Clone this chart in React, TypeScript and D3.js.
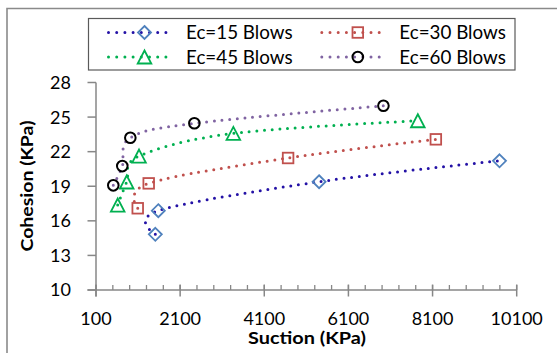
import React from "react";
import * as d3 from "d3";

const suction15 = [1510, 1581, 5403, 9691];
const cohesion15 = [14.83, 16.88, 19.39, 21.21];
const suction30 = [1092, 1353, 4666, 8178];
const cohesion30 = [17.09, 19.25, 21.45, 23.07];
const suction45 = [616, 830, 1123, 3365, 7750];
const cohesion45 = [17.37, 19.37, 21.62, 23.59, 24.68];
const suction60 = [511, 725, 916, 2438, 6932];
const cohesion60 = [19.08, 20.75, 23.21, 24.46, 25.98];

const seriesNames = ["Ec=15 Blows", "Ec=30 Blows", "Ec=45 Blows", "Ec=60 Blows"];
const xTicks = [100, 2100, 4100, 6100, 8100, 10100];
const yTicks = [10, 13, 16, 19, 22, 25, 28];

const FONT = "Lato, 'Open Sans', sans-serif";

type Series = {
  name: string;
  xs: number[];
  ys: number[];
  line: string;
  marker: string;
  shape: "diamond" | "square" | "triangle" | "circle";
};

const series: Series[] = [
  { name: seriesNames[0], xs: suction15, ys: cohesion15, line: "#2412A6", marker: "#4F81BD", shape: "diamond" },
  { name: seriesNames[1], xs: suction30, ys: cohesion30, line: "#C0504D", marker: "#C0504D", shape: "square" },
  { name: seriesNames[2], xs: suction45, ys: cohesion45, line: "#00B050", marker: "#00B050", shape: "triangle" },
  { name: seriesNames[3], xs: suction60, ys: cohesion60, line: "#8064A2", marker: "#000000", shape: "circle" },
];

function Marker({ shape, cx, cy, color }: { shape: string; cx: number; cy: number; color: string }) {
  const common = { fill: "none", stroke: color, strokeWidth: 1.8 };
  if (shape === "diamond") {
    const r = 6.5;
    return <path d={`M${cx},${cy - r}L${cx + r},${cy}L${cx},${cy + r}L${cx - r},${cy}Z`} {...common} />;
  }
  if (shape === "square") {
    const s = 5.3;
    return <rect x={cx - s} y={cy - s} width={2 * s} height={2 * s} {...common} />;
  }
  if (shape === "triangle") {
    const h = 6.5;
    return <path d={`M${cx},${cy - h}L${cx + 6.8},${cy + h}L${cx - 6.8},${cy + h}Z`} {...common} />;
  }
  return <circle cx={cx} cy={cy} r={5.3} {...common} strokeWidth={2} />;
}

export default function App() {
  const W = 557, H = 353;
  const x = d3.scaleLinear().domain([100, 10100]).range([96, 516.7]);
  const y = d3.scaleLinear().domain([10, 28]).range([290, 82.5]);
  const minor = d3.range(100, 10101, 400);
  const axisColor = "#878787";

  const lineGen = d3
    .line<[number, number]>()
    .x((d) => x(d[0]))
    .y((d) => y(d[1]))
    .curve(d3.curveCatmullRom.alpha(0));

  return (
    <svg width={W} height={H} style={{ position: "absolute", left: 0, top: 0, background: "#fff" }}>
      <rect x={0} y={0} width={W} height={H} fill="#fff" />
      {/* outer frame */}
      <path d={`M7,${H}V8.5H${W}`} fill="none" stroke="#8a8a8a" strokeWidth={1.6} />

      {/* y axis */}
      <line x1={x(100)} x2={x(100)} y1={y(28)} y2={296.5} stroke={axisColor} strokeWidth={1.5} />
      {yTicks.map((t) => (
        <g key={t}>
          <line x1={87.5} x2={x(100)} y1={y(t)} y2={y(t)} stroke={axisColor} strokeWidth={1.5} />
          <text x={71} y={y(t)} dy="0.36em" textAnchor="end" fontFamily={FONT} fontSize={18} fill="#000">
            {t}
          </text>
        </g>
      ))}

      {/* x axis */}
      <line x1={87.5} x2={x(10100)} y1={y(10)} y2={y(10)} stroke={axisColor} strokeWidth={1.5} />
      {minor.map((t) => (
        <line key={"m" + t} x1={x(t)} x2={x(t)} y1={285} y2={290} stroke={axisColor} strokeWidth={1.3} />
      ))}
      {xTicks.map((t) => (
        <g key={t}>
          <line x1={x(t)} x2={x(t)} y1={284.5} y2={296.5} stroke={axisColor} strokeWidth={1.5} />
          <text x={x(t)} y={325} textAnchor="middle" fontFamily={FONT} fontSize={18} fill="#000">
            {t}
          </text>
        </g>
      ))}

      {/* axis titles */}
      <text
        x={307}
        y={344}
        textAnchor="middle"
        fontFamily={FONT}
        fontWeight="bold"
        fontSize={17}
        textLength={118}
        lengthAdjust="spacingAndGlyphs"
        fill="#000"
      >
        Suction (KPa)
      </text>
      <text
        transform={`translate(32.5,186) rotate(-90)`}
        textAnchor="middle"
        fontFamily={FONT}
        fontWeight="bold"
        fontSize={17}
        textLength={131}
        lengthAdjust="spacingAndGlyphs"
        fill="#000"
      >
        Cohesion (KPa)
      </text>

      {/* smoothed dotted lines */}
      {series.map((s) => {
        const pts: [number, number][] = s.xs.map((xv, i) => [xv, s.ys[i]]);
        return (
          <path
            key={"l" + s.name}
            d={lineGen(pts) || ""}
            fill="none"
            stroke={s.line}
            strokeWidth={3}
            strokeLinecap="round"
            strokeDasharray="0 7.7"
          />
        );
      })}

      {/* markers */}
      {series.map((s) =>
        s.xs.map((xv, i) => (
          <Marker key={s.name + i} shape={s.shape} cx={x(xv)} cy={y(s.ys[i])} color={s.marker} />
        ))
      )}

      {/* legend */}
      <rect x={88.5} y={18.5} width={426.5} height={51.5} fill="#fff" stroke="#5a5a5a" strokeWidth={1.2} />
      {series.map((s, i) => {
        const col = i % 2;
        const row = Math.floor(i / 2);
        const lx0 = col === 0 ? 108.5 : 321.8;
        const cy = row === 0 ? 32.5 : 57;
        const tx = col === 0 ? 186 : 399.3;
        return (
          <g key={"lg" + s.name}>
            <path
              d={`M${lx0},${cy}H${lx0 + 65}`}
              stroke={s.line}
              strokeWidth={3}
              strokeLinecap="round"
              strokeDasharray="0 8.2"
              fill="none"
            />
            <Marker shape={s.shape} cx={lx0 + 36} cy={cy} color={s.marker} />
            <text x={tx} y={cy} dy="0.36em" fontFamily={FONT} fontSize={18.8} fill="#000">
              {s.name}
            </text>
          </g>
        );
      })}
    </svg>
  );
}
